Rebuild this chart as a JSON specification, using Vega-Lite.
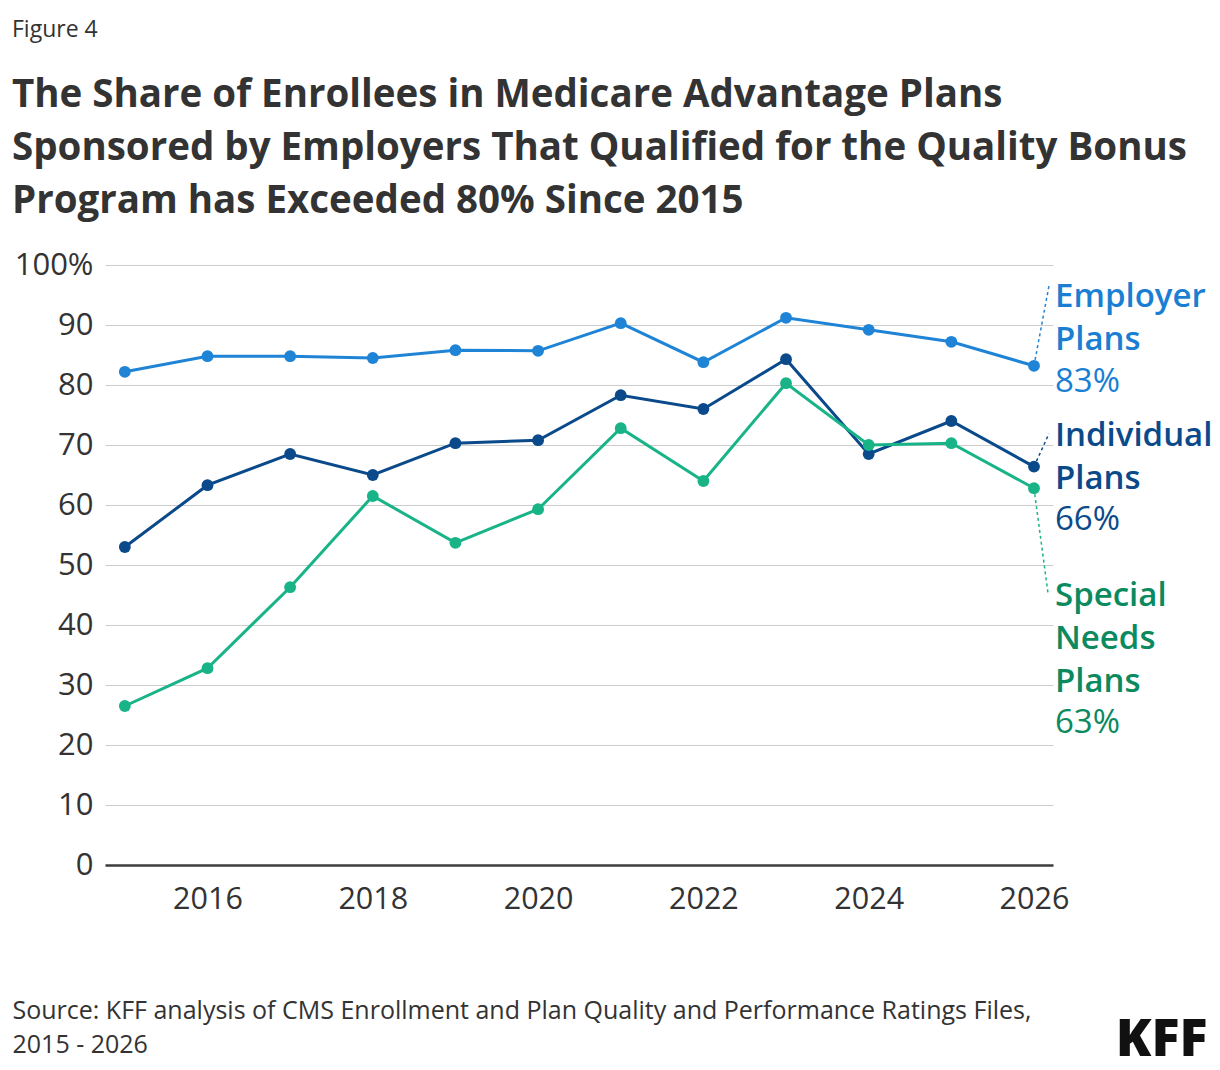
{
  "$schema": "https://vega.github.io/schema/vega-lite/v6.json",
  "autosize": {"type": "none"},
  "width": 948,
  "height": 600,
  "padding": {"left": 105, "top": 265, "right": 167, "bottom": 205},
  "background": "white",
  "config": {
    "font": "Open Sans",
    "view": {"stroke": null}
  },
  "title": {
    "text": "Figure 4",
    "subtitle": [
      "The Share of Enrollees in Medicare Advantage Plans",
      "Sponsored by Employers That Qualified for the Quality Bonus",
      "Program has Exceeded 80% Since 2015"
    ],
    "anchor": "start",
    "frame": "group",
    "dx": -93,
    "offset": 29,
    "font": "Open Sans",
    "fontSize": 23,
    "fontWeight": "normal",
    "color": "#333333",
    "subtitleFont": "Open Sans",
    "subtitleFontSize": 38.5,
    "subtitleFontWeight": "bold",
    "subtitleColor": "#333333",
    "subtitleLineHeight": 53,
    "subtitlePadding": 35
  },
  "data": {
    "values": [
      {"year": 2015, "plan": "Employer", "pct": 82.2},
      {"year": 2016, "plan": "Employer", "pct": 84.8},
      {"year": 2017, "plan": "Employer", "pct": 84.8},
      {"year": 2018, "plan": "Employer", "pct": 84.5},
      {"year": 2019, "plan": "Employer", "pct": 85.8},
      {"year": 2020, "plan": "Employer", "pct": 85.7},
      {"year": 2021, "plan": "Employer", "pct": 90.3},
      {"year": 2022, "plan": "Employer", "pct": 83.8},
      {"year": 2023, "plan": "Employer", "pct": 91.2},
      {"year": 2024, "plan": "Employer", "pct": 89.2},
      {"year": 2025, "plan": "Employer", "pct": 87.2},
      {"year": 2026, "plan": "Employer", "pct": 83.2},
      {"year": 2015, "plan": "Individual", "pct": 53.0},
      {"year": 2016, "plan": "Individual", "pct": 63.3},
      {"year": 2017, "plan": "Individual", "pct": 68.5},
      {"year": 2018, "plan": "Individual", "pct": 65.0},
      {"year": 2019, "plan": "Individual", "pct": 70.3},
      {"year": 2020, "plan": "Individual", "pct": 70.8},
      {"year": 2021, "plan": "Individual", "pct": 78.3},
      {"year": 2022, "plan": "Individual", "pct": 76.0},
      {"year": 2023, "plan": "Individual", "pct": 84.3},
      {"year": 2024, "plan": "Individual", "pct": 68.5},
      {"year": 2025, "plan": "Individual", "pct": 74.0},
      {"year": 2026, "plan": "Individual", "pct": 66.4},
      {"year": 2015, "plan": "Special Needs", "pct": 26.5},
      {"year": 2016, "plan": "Special Needs", "pct": 32.8},
      {"year": 2017, "plan": "Special Needs", "pct": 46.3},
      {"year": 2018, "plan": "Special Needs", "pct": 61.5},
      {"year": 2019, "plan": "Special Needs", "pct": 53.7},
      {"year": 2020, "plan": "Special Needs", "pct": 59.3},
      {"year": 2021, "plan": "Special Needs", "pct": 72.8},
      {"year": 2022, "plan": "Special Needs", "pct": 64.0},
      {"year": 2023, "plan": "Special Needs", "pct": 80.3},
      {"year": 2024, "plan": "Special Needs", "pct": 70.0},
      {"year": 2025, "plan": "Special Needs", "pct": 70.3},
      {"year": 2026, "plan": "Special Needs", "pct": 62.8}
    ]
  },
  "transform": [
    {"calculate": "format(datum.pct, '.0f') + '%'", "as": "pctLabel"}
  ],
  "encoding": {
    "x": {
      "field": "year",
      "type": "quantitative",
      "scale": {"domain": [2014.76, 2026.23], "nice": false, "zero": false},
      "axis": {
        "values": [2016, 2018, 2020, 2022, 2024, 2026],
        "format": "d",
        "grid": false,
        "ticks": false,
        "domain": true,
        "domainColor": "#3d3d3d",
        "domainWidth": 2.5,
        "labelFont": "Open Sans",
        "labelFontSize": 30.5,
        "labelColor": "#333333",
        "labelPadding": 19,
        "title": [
          "Source: KFF analysis of CMS Enrollment and Plan Quality and Performance Ratings Files,",
          "2015 - 2026"
        ],
        "titleFont": "Open Sans",
        "titleFontSize": 25,
        "titleFontWeight": "normal",
        "titleColor": "#333333",
        "titleAnchor": "start",
        "titleAlign": "left",
        "titleBaseline": "alphabetic",
        "titleLineHeight": 34,
        "titleX": -93,
        "titleY": 153
      }
    },
    "y": {
      "field": "pct",
      "type": "quantitative",
      "scale": {"domain": [0, 100], "nice": false},
      "axis": {
        "values": [0, 10, 20, 30, 40, 50, 60, 70, 80, 90, 100],
        "labelExpr": "datum.value == 100 ? '100%' : datum.label",
        "grid": true,
        "gridColor": "#cccccc",
        "gridWidth": 1,
        "domain": false,
        "ticks": false,
        "labelFont": "Open Sans",
        "labelFontSize": 31,
        "labelColor": "#333333",
        "labelPadding": 12,
        "title": "KFF",
        "titleFont": "Open Sans",
        "titleFontSize": 52,
        "titleFontWeight": 800,
        "titleColor": "#111111",
        "titleAngle": 0,
        "titleAlign": "right",
        "titleBaseline": "alphabetic",
        "titleX": 1102,
        "titleY": 790
      }
    },
    "color": {
      "field": "plan",
      "type": "nominal",
      "scale": {
        "domain": ["Employer", "Individual", "Special Needs"],
        "range": ["#1f84d6", "#0b4a8a", "#18b487"]
      },
      "legend": null
    }
  },
  "layer": [
    {
      "transform": [{"filter": "datum.plan == 'Employer' && datum.year == 2026"}],
      "mark": {"type": "rule", "strokeDash": [3, 3], "strokeWidth": 1.5, "x2Offset": 15, "y2Offset": -80},
      "encoding": {"x2": {"field": "year"}, "y2": {"field": "pct"}}
    },
    {
      "transform": [{"filter": "datum.plan == 'Individual' && datum.year == 2026"}],
      "mark": {"type": "rule", "strokeDash": [3, 3], "strokeWidth": 1.5, "x2Offset": 15, "y2Offset": -33},
      "encoding": {"x2": {"field": "year"}, "y2": {"field": "pct"}}
    },
    {
      "transform": [{"filter": "datum.plan == 'Special Needs' && datum.year == 2026"}],
      "mark": {"type": "rule", "strokeDash": [3, 3], "strokeWidth": 1.5, "x2Offset": 14, "y2Offset": 105},
      "encoding": {"x2": {"field": "year"}, "y2": {"field": "pct"}}
    },
    {
      "mark": {"type": "line", "strokeWidth": 3},
      "encoding": {}
    },
    {
      "mark": {"type": "point", "filled": true, "opacity": 1, "size": 140},
      "encoding": {}
    },
    {
      "transform": [{"filter": "datum.plan == 'Employer' && datum.year == 2026"}],
      "mark": {"type": "text", "text": ["Employer", "Plans"], "align": "left", "baseline": "alphabetic", "dx": 21, "dy": -59, "fontSize": 33, "fontWeight": 600, "lineHeight": 43},
      "encoding": {"color": {"value": "#1a7fd3"}}
    },
    {
      "transform": [{"filter": "datum.plan == 'Employer' && datum.year == 2026"}],
      "mark": {"type": "text", "align": "left", "baseline": "alphabetic", "dx": 21, "dy": 26, "fontSize": 33, "fontWeight": "normal"},
      "encoding": {"text": {"field": "pctLabel"}, "color": {"value": "#1a7fd3"}}
    },
    {
      "transform": [{"filter": "datum.plan == 'Individual' && datum.year == 2026"}],
      "mark": {"type": "text", "text": ["Individual", "Plans"], "align": "left", "baseline": "alphabetic", "dx": 21, "dy": -21, "fontSize": 33, "fontWeight": 600, "lineHeight": 43},
      "encoding": {"color": {"value": "#0b4a8a"}}
    },
    {
      "transform": [{"filter": "datum.plan == 'Individual' && datum.year == 2026"}],
      "mark": {"type": "text", "align": "left", "baseline": "alphabetic", "dx": 21, "dy": 63, "fontSize": 33, "fontWeight": "normal"},
      "encoding": {"text": {"field": "pctLabel"}, "color": {"value": "#0b4a8a"}}
    },
    {
      "transform": [{"filter": "datum.plan == 'Special Needs' && datum.year == 2026"}],
      "mark": {"type": "text", "text": ["Special", "Needs", "Plans"], "align": "left", "baseline": "alphabetic", "dx": 21, "dy": 118, "fontSize": 33, "fontWeight": 600, "lineHeight": 43},
      "encoding": {"color": {"value": "#0a8a5e"}}
    },
    {
      "transform": [{"filter": "datum.plan == 'Special Needs' && datum.year == 2026"}],
      "mark": {"type": "text", "align": "left", "baseline": "alphabetic", "dx": 21, "dy": 245, "fontSize": 33, "fontWeight": "normal"},
      "encoding": {"text": {"field": "pctLabel"}, "color": {"value": "#0a8a5e"}}
    }
  ]
}
